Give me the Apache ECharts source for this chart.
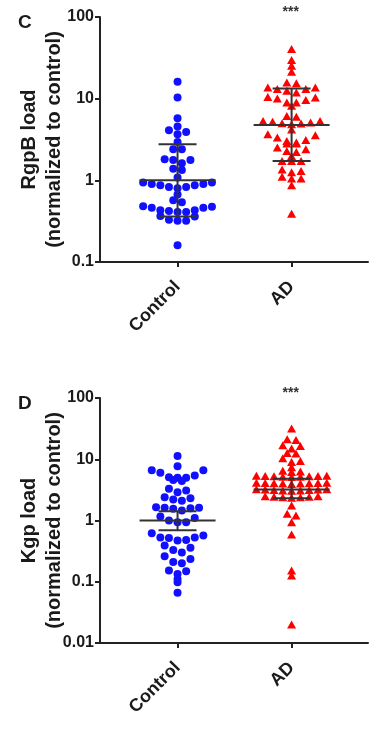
<!DOCTYPE html>
<html>
<head>
<meta charset="utf-8">
<script src="https://cdn.jsdelivr.net/npm/echarts@6/dist/echarts.min.js"></script>
<style>
html,body{margin:0;padding:0;background:#fff;}
#chart{width:380px;height:730px;}
</style>
</head>
<body>
<div id="chart"></div>
<script>
// ---------- data ----------
const categories = ['Control', 'AD'];
const panelLabels = ['C', 'D'];
const yAxisNames = ['RgpB load\n(normalized to control)', 'Kgp load\n(normalized to control)'];
const significance = ['***', '***'];
const yTicksC = ['0.1', '1', '10', '100'];
const yTicksD = ['0.01', '0.1', '1', '10', '100'];

const rgpbControl = [16.1, 10.3, 5.77, 4.56, 3.92, 4.1, 3.67, 2.95, 2.4, 2.4, 1.77, 1.62, 1.81, 1.77,
  1.34, 1.39, 1.08, 0.94, 0.9, 0.87, 0.83, 0.80, 0.83, 0.87, 0.9, 0.94, 0.67, 0.57, 0.54,
  0.48, 0.41, 0.46, 0.43, 0.42, 0.43, 0.46, 0.475, 0.41, 0.36, 0.32, 0.32, 0.33, 0.365, 0.16];
const rgpbAD = [40.5, 29.7, 25.3, 21.3, 15.4, 15.8, 13.7, 13.1, 11.9, 12.5, 13.1, 13.7, 10.5, 10.05,
  9.0, 8.2, 9.0, 9.6, 10.35, 6.15, 6.0, 5.34, 5.2, 5.0, 4.95, 4.87, 5.1, 5.34, 4.2, 3.67, 3.34, 3.57,
  3.12, 3.04, 2.82, 2.52, 2.29, 2.4, 2.82, 2.9, 2.22, 1.99, 1.73, 1.73, 1.73, 1.36, 1.26, 1.3, 1.11,
  1.05, 1.05, 0.87, 0.39];
const kgpControl = [11.3, 7.7, 6.6, 6.0, 6.6, 4.6, 5.0, 4.4, 5.0, 5.1, 5.45, 3.1, 3.3, 2.9, 2.4, 2.2,
  2.1, 2.3, 1.61, 1.45, 1.55, 1.65, 1.59, 1.61, 1.0, 1.16, 0.94, 0.94, 1.1, 0.62, 0.53, 0.52, 0.47,
  0.48, 0.53, 0.57, 0.39, 0.33, 0.30, 0.36, 0.236, 0.21, 0.20, 0.26, 0.152, 0.134, 0.148, 0.098,
  0.111, 0.066];
const kgpAD = [31.7, 21.2, 20.6, 16.9, 15.0, 16.4, 12.6, 12.4, 10.4, 9.35, 9.0, 7.4, 6.5, 6.3, 6.2,
  5.4, 5.35, 5.3, 5.2, 5.15, 5.2, 5.3, 5.35, 5.4,
  4.15, 4.1, 4.05, 4.0, 3.95, 4.0, 4.05, 4.1, 4.15,
  3.25, 3.2, 3.15, 3.1, 3.05, 3.1, 3.15, 3.2, 3.25,
  2.5, 2.45, 2.4, 2.35, 2.4, 2.45, 2.5,
  1.76, 1.29, 1.21, 0.94, 0.59, 0.152, 0.126, 0.020];

// [group, mean, lower, upper]
const rgpbSummary = [[1, 1.0, 0.36, 2.76], [2, 4.77, 1.73, 13.3]];
const kgpSummary = [[1, 1.0, 0.69, 1.41], [2, 3.2, 2.3, 4.8]];

// ---------- chart ----------
const FONT = 'Liberation Sans, Arial, sans-serif';
const AXIS_COLOR = '#222';
const chart = echarts.init(document.getElementById('chart'), null, {renderer: 'canvas'});

function yAxisCfg(idx, min, labels) {
  return {
    type: 'log', logBase: 10, min: min, max: 100, gridIndex: idx,
    name: yAxisNames[idx], nameLocation: 'middle', nameGap: 33, nameRotate: 90,
    nameMoveOverlap: false,
    nameTextStyle: {fontFamily: FONT, fontWeight: 'bold', fontSize: 20, lineHeight: 25, color: '#1a1a1a'},
    axisLine: {show: true, lineStyle: {color: AXIS_COLOR, width: 2}},
    axisTick: {show: true, length: 5, lineStyle: {color: AXIS_COLOR, width: 2}},
    splitLine: {show: false}, minorTick: {show: false},
    axisLabel: {
      fontFamily: FONT, fontWeight: 'bold', fontSize: 16, color: '#1a1a1a', margin: 6,
      formatter: v => labels[Math.round(Math.log10(v)) - Math.round(Math.log10(min))]
    }
  };
}
function xAxisCfg(idx) {
  return {
    type: 'value', min: 0.32, max: 2.67, gridIndex: idx,
    axisLine: {show: true, onZero: false, lineStyle: {color: AXIS_COLOR, width: 2}},
    axisTick: {show: true, length: 5, customValues: [1, 2], lineStyle: {color: AXIS_COLOR, width: 2}},
    splitLine: {show: false},
    axisLabel: {
      customValues: [1, 2], rotate: 45, margin: 22,
      fontFamily: FONT, fontWeight: 'bold', fontSize: 18, color: '#1a1a1a',
      formatter: v => categories[Math.round(v) - 1]
    }
  };
}
function errRender(params, api) {
  const x = api.value(0);
  const m = api.coord([x, api.value(1)]);
  const lo = api.coord([x, api.value(2)]);
  const hi = api.coord([x, api.value(3)]);
  const st = {stroke: '#333', lineWidth: 2};
  return {type: 'group', children: [
    {type: 'line', shape: {x1: m[0] - 38, y1: m[1], x2: m[0] + 38, y2: m[1]}, style: st},
    {type: 'line', shape: {x1: m[0], y1: lo[1], x2: m[0], y2: hi[1]}, style: st},
    {type: 'line', shape: {x1: m[0] - 19, y1: lo[1], x2: m[0] + 19, y2: lo[1]}, style: st},
    {type: 'line', shape: {x1: m[0] - 19, y1: hi[1], x2: m[0] + 19, y2: hi[1]}, style: st}
  ]};
}

const groups = [
  {grid: 0, vals: rgpbControl, g: 1, color: '#1010ff', symbol: 'circle', size: 8, step: 8.6},
  {grid: 0, vals: rgpbAD, g: 2, color: '#ff0000', symbol: 'triangle', size: [9, 8], step: 9.5},
  {grid: 1, vals: kgpControl, g: 1, color: '#1010ff', symbol: 'circle', size: 8, step: 8.6},
  {grid: 1, vals: kgpAD, g: 2, color: '#ff0000', symbol: 'triangle', size: [9, 8], step: 8.8}
];

function buildSeries(xOffsets) {
  const s = groups.map((gr, k) => ({
    type: 'scatter', xAxisIndex: gr.grid, yAxisIndex: gr.grid,
    symbol: gr.symbol, symbolSize: gr.size, z: 2,
    itemStyle: {color: gr.color, opacity: 1},
    data: gr.vals.map((v, i) => [gr.g + (xOffsets ? xOffsets[k][i] : 0), v])
  }));
  s.push({type: 'custom', xAxisIndex: 0, yAxisIndex: 0, z: 5, renderItem: errRender,
    encode: {x: 0, y: [1, 2, 3]}, data: rgpbSummary});
  s.push({type: 'custom', xAxisIndex: 1, yAxisIndex: 1, z: 5, renderItem: errRender,
    encode: {x: 0, y: [1, 2, 3]}, data: kgpSummary});
  return s;
}

const option = {
  animation: false,
  backgroundColor: '#fff',
  grid: [
    {left: 100, top: 17, width: 268, height: 245, outerBoundsMode: 'none', containLabel: false},
    {left: 100, top: 398, width: 268, height: 245, outerBoundsMode: 'none', containLabel: false}
  ],
  xAxis: [xAxisCfg(0), xAxisCfg(1)],
  yAxis: [yAxisCfg(0, 0.1, yTicksC), yAxisCfg(1, 0.01, yTicksD)],
  series: buildSeries(null)
};
chart.setOption(option);

// row-based (column scatter) layout in pixel space, using the library's own scales
function rowLayout(ys, vals, gap, maxSpan, D) {
  const order = ys.map((y, i) => i).sort((a, b) => ys[a] - ys[b]);
  const rows = [];
  let cur = null, last = null;
  for (const i of order) {
    if (!cur || ys[i] - last > gap || ys[i] - cur.y0 > maxSpan) {
      cur = {y0: ys[i], items: []};
      rows.push(cur);
    }
    cur.items.push(i);
    last = ys[i];
  }
  const xs = new Array(ys.length).fill(0);
  rows.forEach(r => {
    const n = r.items.length;
    const pos = [];
    for (let k = 0; k < n; k++) pos.push(k - (n - 1) / 2);
    pos.sort((a, b) => (Math.abs(b) - Math.abs(a)) || (a - b));
    const items = r.items.slice().sort((a, b) => vals[b] - vals[a]);
    items.forEach((idx, j) => { xs[idx] = pos[j] * D; });
  });
  return xs;
}

const offsets = groups.map(gr => {
  const finder = {gridIndex: gr.grid};
  const ys = gr.vals.map(v => chart.convertToPixel(finder, [gr.g, v])[1]);
  const pxPerUnit = chart.convertToPixel(finder, [2, 1])[0] - chart.convertToPixel(finder, [1, 1])[0];
  const isCircle = gr.symbol === 'circle';
  const xs = rowLayout(ys, gr.vals, 3.2, isCircle ? 8 : 9, gr.step);
  return xs.map(dx => dx / pxPerUnit);
});

const graphics = [];
[0, 1].forEach(k => {
  const top = chart.convertToPixel({gridIndex: k}, [2, 100]);
  graphics.push({type: 'text', left: top[0] - 9, top: top[1] - 12,
    style: {text: significance[k], font: 'bold 14px ' + FONT, fill: '#333'}});
  const corner = chart.convertToPixel({gridIndex: k}, [0.32, 100]);
  graphics.push({type: 'text', left: corner[0] - 82, top: corner[1] - 4,
    style: {text: panelLabels[k], font: 'bold 19px ' + FONT, fill: '#1a1a1a'}});
});

chart.setOption({series: buildSeries(offsets), graphic: graphics});
</script>
</body>
</html>
